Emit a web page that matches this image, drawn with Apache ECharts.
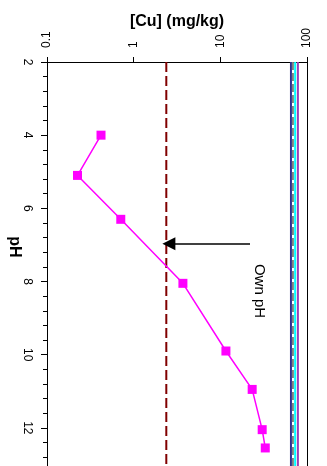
<!DOCTYPE html>
<html>
<head>
<meta charset="utf-8">
<script src="https://cdn.jsdelivr.net/npm/echarts@6/dist/echarts.min.js"></script>
<style>
html,body{margin:0;padding:0;background:#fff;}
#c{width:327px;height:466px;}
</style>
</head>
<body>
<div id="c"></div>
<script>
// pH values of the measured points
const pHValues = [4.0, 5.1, 6.3, 8.05, 9.9, 10.95, 12.05, 12.55];
// measured Cu concentration (mg/kg)
const cuMeasured = [0.42, 0.225, 0.71, 3.7, 11.6, 23.3, 30.4, 33];
// constant reference levels (mg/kg)
const refNames = ['Limit', 'Total A', 'Total B', 'Total C', 'Total D'];
const refValues = [2.38, 65.3, 68.7, 73, 78.5];
// axis ranges / ticks
const pHRange = [2, 14];
const pHTicks = [2, 4, 6, 8, 10, 12, 14];
const cuRange = [0.1, 100];
const cuTickLabels = ['0.1', '1', '10', '100'];
// annotation (data coordinates)
const arrowCu = [22, 2.55];
const arrowPH = 6.97;
const ownPHText = 'Own pH';
const ownPHPos = [27.9, 8.26];

const FONT = 'Liberation Sans, Arial, sans-serif';
const refStyles = [
  {color: '#800000', width: 2, type: [10, 4]},
  {color: '#2E2E8F', width: 2, type: 'solid'},
  {color: '#808080', width: 2, type: [8, 3]},
  {color: '#00FFFF', width: 2, type: 'solid'},
  {color: '#9B3FB5', width: 2, type: 'solid'}
];

const chart = echarts.init(document.getElementById('c'), null, {renderer: 'canvas'});

const series = [];
refValues.forEach((v, i) => {
  series.push({
    name: refNames[i], type: 'line', silent: true, symbol: 'none',
    data: [[v, pHRange[0]], [v, pHRange[1]]],
    lineStyle: refStyles[i], z: 2
  });
});
series.push({
  name: 'Cu', type: 'line',
  data: pHValues.map((p, i) => [cuMeasured[i], p]),
  symbol: 'rect', symbolSize: 9,
  itemStyle: {color: '#FF00FF'},
  lineStyle: {color: '#FF00FF', width: 1.5},
  z: 5
});
series.push({
  name: 'annot', type: 'line', data: [], silent: true,
  markLine: {
    silent: true, animation: false,
    symbol: ['none', 'arrow'], symbolSize: 13,
    label: {show: false},
    lineStyle: {color: '#000', width: 1.5, type: 'solid'},
    data: [[
      {coord: [arrowCu[0], arrowPH], symbol: 'none'},
      {coord: [arrowCu[1], arrowPH], symbol: 'triangle', symbolSize: 13}
    ]]
  },
  markPoint: {
    silent: true, animation: false,
    symbol: 'circle', symbolSize: 0,
    label: {show: true, position: 'inside', rotate: -90, formatter: ownPHText,
      color: '#000', fontSize: 15, fontFamily: FONT},
    data: [{coord: ownPHPos}]
  }
});

chart.setOption({
  animation: false,
  backgroundColor: '#fff',
  grid: {left: 47, right: 20, top: 62, bottom: -35, containLabel: false, outerBoundsMode: 'none'},
  xAxis: {
    type: 'log', logBase: 10, min: cuRange[0], max: cuRange[1], position: 'top',
    name: '[Cu] (mg/kg)', nameLocation: 'middle', nameGap: 32, nameMoveOverlap: false,
    nameTextStyle: {fontSize: 16, fontWeight: 'bold', color: '#000', fontFamily: FONT},
    axisLine: {show: true, onZero: false, lineStyle: {color: '#000', width: 1}},
    axisTick: {show: true, length: 5, inside: false, lineStyle: {color: '#000'}},
    minorTick: {show: false},
    splitLine: {show: false},
    axisLabel: {
      rotate: -90, margin: 14, fontSize: 12, color: '#000', fontFamily: FONT,
      formatter: v => {
        const idx = Math.round(Math.log10(v) - Math.log10(cuRange[0]));
        return cuTickLabels[idx] !== undefined ? cuTickLabels[idx] : '';
      }
    }
  },
  yAxis: [{
    type: 'value', inverse: true, min: pHRange[0], max: pHRange[1], interval: 2,
    position: 'left',
    axisLine: {show: true, onZero: false, lineStyle: {color: '#000', width: 1}},
    axisTick: {show: true, length: 6, lineStyle: {color: '#000'}},
    minorTick: {show: true, splitNumber: 5, length: 4, lineStyle: {color: '#000'}},
    splitLine: {show: false},
    axisLabel: {rotate: -90, margin: 14, fontSize: 12, color: '#000', fontFamily: FONT,
      formatter: v => pHTicks.includes(v) ? String(v) : ''}
  }, {
    type: 'value', inverse: true, min: pHRange[0], max: pHRange[1], position: 'right',
    axisLine: {show: true, onZero: false, lineStyle: {color: '#000', width: 1}},
    axisTick: {show: false}, axisLabel: {show: false}, splitLine: {show: false}
  }],
  graphic: [{
    type: 'text', x: 14, y: 247, rotation: -Math.PI / 2,
    style: {text: 'pH', font: 'bold 16px ' + FONT, fill: '#000', align: 'center', verticalAlign: 'middle'}
  }],
  series: series
});
</script>
</body>
</html>
